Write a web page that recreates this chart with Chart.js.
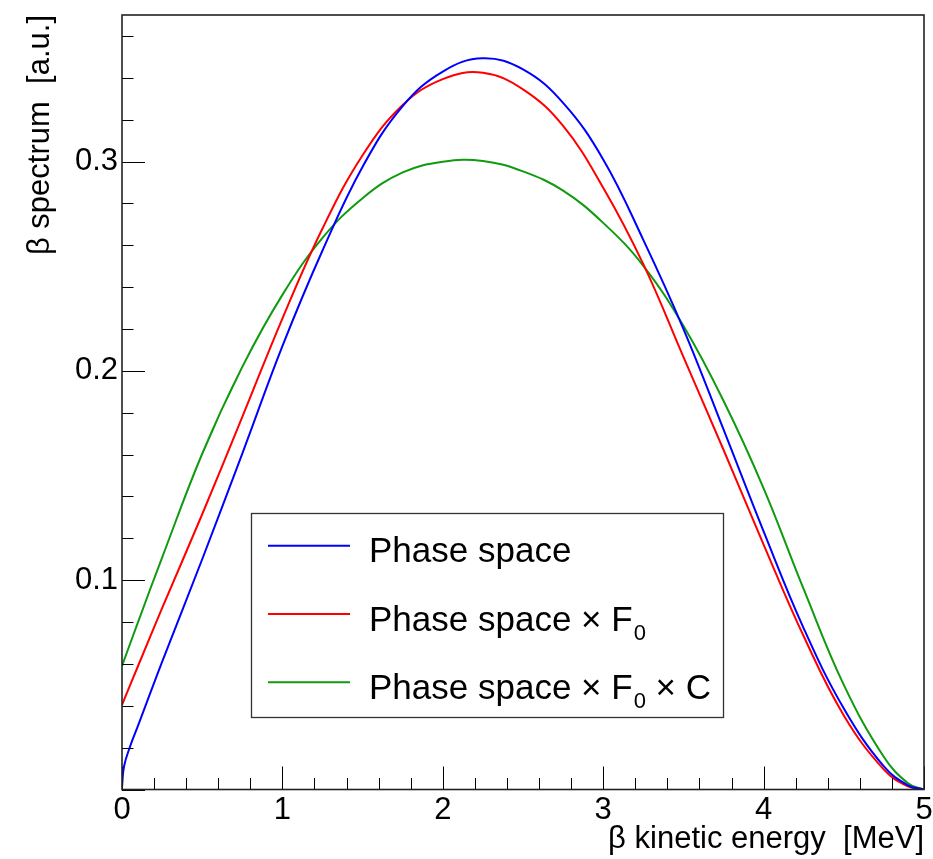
<!DOCTYPE html>
<html>
<head>
<meta charset="utf-8">
<script src="https://cdn.jsdelivr.net/npm/chart.js@4"></script>
<style>
  html,body{margin:0;padding:0;background:#fff;}
  canvas{display:block;}
</style>
</head>
<body>
<canvas id="c" width="933" height="859"></canvas>
<script>
// ---- data ----
const energyBlue = [0, 0.0125, 0.05, 0.1, 0.25, 0.5, 0.75, 1.0, 1.25, 1.5, 1.75, 2.0, 2.25, 2.5, 2.75, 3.0, 3.25, 3.5, 3.75, 4.0, 4.25, 4.5, 4.75, 4.9, 5.0];
const phaseSpace = [0.001, 0.011, 0.0205, 0.0305, 0.061, 0.110, 0.1605, 0.2118, 0.2575, 0.2975, 0.3265, 0.343, 0.3493, 0.344, 0.328, 0.301, 0.2626, 0.2201, 0.172, 0.1233, 0.077, 0.0387, 0.011, 0.002, 0];

const energyGrid = [0, 0.1, 0.25, 0.5, 0.75, 1.0, 1.25, 1.5, 1.75, 2.0, 2.25, 2.5, 2.75, 3.0, 3.25, 3.5, 3.75, 4.0, 4.25, 4.5, 4.75, 4.9, 5.0];
const phaseSpaceF0 = [0.0404, 0.059, 0.0866, 0.1315, 0.178, 0.225, 0.268, 0.303, 0.327, 0.3394, 0.3424, 0.3345, 0.317, 0.2875, 0.251, 0.2067, 0.1623, 0.117, 0.0732, 0.0354, 0.0095, 0.0015, 0];
const phaseSpaceF0C = [0.059, 0.080, 0.1108, 0.1604, 0.2019, 0.2363, 0.2635, 0.2825, 0.2948, 0.2999, 0.3003, 0.2953, 0.2861, 0.2707, 0.2502, 0.2215, 0.1857, 0.1439, 0.0957, 0.05, 0.0155, 0.003, 0];

const xTickLabels = ['0', '1', '2', '3', '4', '5'];
const yTickLabels = ['0.1', '0.2', '0.3'];
const xTitle = 'β kinetic energy  [MeV]';
const yTitle = 'β spectrum  [a.u.]';
const legendLabels = [
  [['Phase space', 'n']],
  [['Phase space × F', 'n'], ['0', 's']],
  [['Phase space × F', 'n'], ['0', 's'], [' × C', 'n']]
];
const seriesColors = ['#0000ff', '#ff0000', '#109a10'];

// ---- chart ----
const FONT = '"Liberation Sans", Arial, Helvetica, sans-serif';
Chart.defaults.font.family = FONT;
Chart.defaults.color = '#000';

const toPts = (xs, ys) => xs.map((x, i) => ({x: x, y: ys[i]}));

const decor = {
  id: 'decor',
  afterDatasetsDraw(chart) {
    const {ctx, chartArea: a, scales: {x, y}} = chart;
    ctx.save();
    ctx.strokeStyle = '#000';
    ctx.lineWidth = 1;
    // ticks (inward)
    ctx.beginPath();
    for (let i = 0; i <= 18; i++) {
      const v = i * 0.02;
      const py = Math.round(y.getPixelForValue(v)) + 0.5;
      const len = (i % 5 === 0) ? 23 : 11.5;
      ctx.moveTo(a.left, py); ctx.lineTo(a.left + len, py);
    }
    for (let i = 0; i <= 25; i++) {
      const v = i * 0.2;
      const px = Math.round(x.getPixelForValue(v)) + 0.5;
      const len = (i % 5 === 0) ? 23 : 11.5;
      ctx.moveTo(px, a.bottom); ctx.lineTo(px, a.bottom - len);
    }
    ctx.stroke();
    // frame
    ctx.strokeStyle = '#222';
    ctx.lineWidth = 1.6;
    ctx.strokeRect(a.left, a.top, a.right - a.left, a.bottom - a.top);

    // legend
    const bx = 251, by = 513, bw = 472, bh = 204;
    ctx.fillStyle = '#fff';
    ctx.fillRect(bx, by, bw, bh);
    ctx.strokeStyle = '#333';
    ctx.lineWidth = 1.3;
    ctx.strokeRect(bx + 0.5, by + 0.5, bw, bh);
    const rowY = [545.7, 614, 682.3];
    legendLabels.forEach((segs, i) => {
      ctx.strokeStyle = seriesColors[i];
      ctx.lineWidth = 2;
      ctx.beginPath();
      ctx.moveTo(268, rowY[i]); ctx.lineTo(350, rowY[i]);
      ctx.stroke();
      let tx = 369;
      const base = rowY[i] + 16.5;
      ctx.fillStyle = '#000';
      ctx.textBaseline = 'alphabetic';
      ctx.textAlign = 'left';
      segs.forEach(([t, kind]) => {
        if (kind === 's') {
          ctx.font = '22px ' + FONT;
          ctx.fillText(t, tx + 1, base + 9);
          tx += ctx.measureText(t).width + 1;
        } else {
          ctx.font = '35px ' + FONT;
          ctx.fillText(t, tx, base);
          tx += ctx.measureText(t).width;
        }
      });
    });
    ctx.restore();
  }
};

new Chart(document.getElementById('c'), {
  type: 'line',
  data: {
    datasets: [
      {label: 'Phase space', data: toPts(energyBlue, phaseSpace), borderColor: seriesColors[0]},
      {label: 'Phase space × F0', data: toPts(energyGrid, phaseSpaceF0), borderColor: seriesColors[1]},
      {label: 'Phase space × F0 × C', data: toPts(energyGrid, phaseSpaceF0C), borderColor: seriesColors[2]}
    ]
  },
  options: {
    responsive: false,
    animation: false,
    devicePixelRatio: 1,
    layout: {padding: {top: 15, right: 9, left: 0, bottom: 0}},
    elements: {
      point: {radius: 0},
      line: {borderWidth: 2, tension: 0.4, cubicInterpolationMode: 'default', fill: false}
    },
    plugins: {legend: {display: false}, tooltip: {enabled: false}},
    scales: {
      x: {
        type: 'linear', min: 0, max: 5,
        grid: {display: false, drawTicks: false},
        border: {display: false},
        ticks: {
          stepSize: 1, autoSkip: false, maxRotation: 0, padding: 2,
          font: {size: 31}, color: '#000',
          callback: (v) => { const i = Math.round(v); return Math.abs(v - i) < 1e-6 && xTickLabels[i] !== undefined ? xTickLabels[i] : ''; }
        },
        title: {display: true, text: xTitle, align: 'end', font: {size: 31}, color: '#000', padding: {top: 0, bottom: 1}},
        afterFit: (s) => { s.height = 69.5; s.paddingLeft = 0; s.paddingRight = 0; }
      },
      y: {
        type: 'linear', min: 0, max: 0.37,
        grid: {display: false, drawTicks: false},
        border: {display: false},
        ticks: {
          stepSize: 0.1, padding: 4,
          font: {size: 31}, color: '#000',
          callback: (v) => { const k = Math.round(v * 10); return (Math.abs(v * 10 - k) < 1e-6 && k >= 1 && k <= 3) ? yTickLabels[k - 1] : ''; }
        },
        title: {display: true, text: yTitle, align: 'end', font: {size: 31}, color: '#000', padding: {top: 21.4, bottom: 0}},
        afterFit: (s) => { s.width = 122; s.paddingTop = 0; s.paddingBottom = 0; }
      }
    }
  },
  plugins: [decor]
});
</script>
</body>
</html>
